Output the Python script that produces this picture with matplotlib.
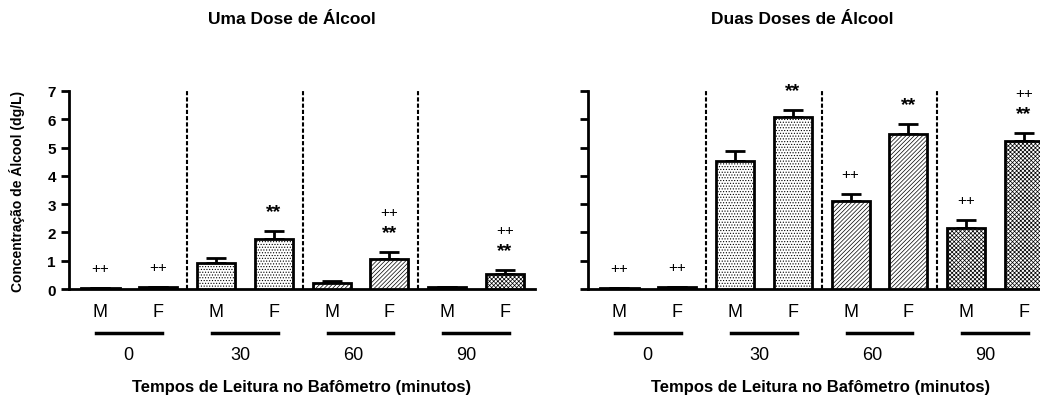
import numpy as np
import matplotlib
matplotlib.use('Agg')
import matplotlib.pyplot as plt
from matplotlib.transforms import blended_transform_factory

plt.rcParams['font.family'] = ['Liberation Sans', 'DejaVu Sans']
plt.rcParams['hatch.linewidth'] = 0.5

# alcohol concentration (dg/L), bars ordered M, F for 0, 30, 60, 90 min
sexes = ['M', 'F', 'M', 'F', 'M', 'F', 'M', 'F']
times = ['0', '30', '60', '90']

uma_mean = [0.05, 0.08, 0.92, 1.77, 0.22, 1.06, 0.08, 0.52]
uma_sem = [0.0, 0.0, 0.18, 0.28, 0.08, 0.24, 0.0, 0.15]
uma_star = [False, False, False, True, False, True, False, True]
uma_plus = [True, True, False, False, False, True, False, True]

duas_mean = [0.04, 0.07, 4.52, 6.07, 3.11, 5.47, 2.15, 5.22]
duas_sem = [0.0, 0.0, 0.36, 0.25, 0.24, 0.36, 0.29, 0.29]
duas_star = [False, False, False, True, False, True, False, True]
duas_plus = [True, True, False, False, True, False, True, True]

hatches = ['', '', '......', '......', '////////', '////////',
           'xxxxxxxx', 'xxxxxxxx']

fig = plt.figure(figsize=(10.4, 4.06), dpi=100)
ax1 = fig.add_axes([69/1040, 116/406, 466/1040, 198/406])
ax2 = fig.add_axes([588/1040, 116/406, 466/1040, 198/406])


def draw_panel(ax, mean, sem, star, plus, show_labels):
    x = np.arange(len(mean))
    ax.bar(x, mean, width=0.66, color='white', edgecolor='black',
           linewidth=2, hatch=hatches, zorder=3)
    ax.errorbar(x, mean, yerr=[np.zeros(len(sem)), sem], fmt='none',
                ecolor='black', elinewidth=2, capsize=7, capthick=2, zorder=2)

    # significance marks above the error bars
    for i in range(len(mean)):
        top = mean[i] + sem[i]
        y = top + 0.7
        if star[i]:
            ax.text(x[i], y, '**', ha='center', va='center', fontsize=14,
                    fontweight='bold')
            y = y + 0.72
        if plus[i]:
            ax.text(x[i], y, '++', ha='center', va='center', fontsize=11)

    # dotted separators between reading times
    for xs in [1.5, 3.5, 5.5]:
        ax.plot([xs, xs], [0, 7.05], color='black', lw=1.5,
                ls=(0, (2, 1)), zorder=1, clip_on=False)

    ax.set_xlim(-0.545, 7.52)
    ax.set_ylim(0, 7)
    ax.set_yticks(range(8))
    ax.spines['top'].set_visible(False)
    ax.spines['right'].set_visible(False)
    ax.spines['left'].set_linewidth(2)
    ax.spines['bottom'].set_linewidth(2)
    ax.tick_params(axis='y', width=2, length=6)
    if show_labels:
        ax.set_yticklabels([str(v) for v in range(8)], fontweight='bold',
                           fontsize=11)
        ax.set_ylabel('Concentração de Álcool (dg/L)', fontweight='bold',
                      fontsize=10, labelpad=16)
    else:
        ax.set_yticklabels([])

    ax.set_xticks(x)
    ax.set_xticklabels(sexes, fontsize=13)
    ax.tick_params(axis='x', length=0, pad=10)

    # group underlines and reading-time labels
    tr = blended_transform_factory(ax.transData, ax.transAxes)
    for g in range(len(times)):
        a = 2 * g
        ax.plot([a - 0.07, a + 1.07], [-0.22, -0.22], color='black', lw=2.5,
                transform=tr, clip_on=False)
        ax.text(a + 0.48 - 0.05 * g, -0.33, times[g], transform=tr,
                ha='center', va='center', fontsize=13)

    ax.set_xlabel('Tempos de Leitura no Bafômetro (minutos)',
                  fontweight='bold', fontsize=12)
    ax.xaxis.set_label_coords(0.5, -0.49)
    ax.xaxis.label.set_va('center')
    return ax


draw_panel(ax1, uma_mean, uma_sem, uma_star, uma_plus, True)
draw_panel(ax2, duas_mean, duas_sem, duas_star, duas_plus, False)

fig.text(292/1040, 1 - 20/406, 'Uma Dose de Álcool', ha='center',
         va='center', fontsize=12.5, fontweight='bold')
fig.text(802/1040, 1 - 20/406, 'Duas Doses de Álcool', ha='center',
         va='center', fontsize=12.5, fontweight='bold')

fig.savefig('out.png', dpi=100)
